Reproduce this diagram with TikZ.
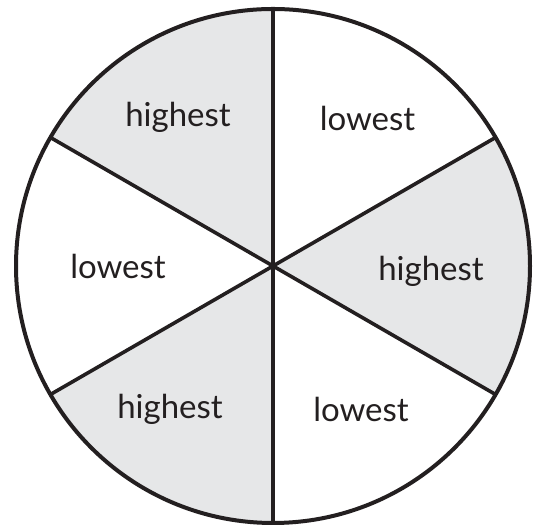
\documentclass[tikz,border=0pt]{standalone}
\usepackage{fontspec}
\setmainfont{Lato}
\usepackage{tikz}
\usetikzlibrary{calc}
\definecolor{ink}{HTML}{231F20}
\definecolor{shade}{HTML}{E6E7E8}

\begin{document}
\begin{tikzpicture}[x=1pt, y=1pt,
    sector/.style={fill=shade},
    lbl/.style={font=\fontsize{33}{36}\selectfont, text=ink, anchor=base, inner sep=0pt},
    edge/.style={ink, line width=3.6pt},
    rim/.style={ink, line width=4pt}
]
    \useasboundingbox (0,0) rectangle (536,526);
    \coordinate (c) at (273,260);
    \foreach \a in {30,90,...,330}
        \coordinate (p\a) at ($(c)+(\a:257)$);

    % grey sectors
    \foreach \a in {90,210,330}
        \fill[sector] (c) -- (p\a) arc[start angle=\a, delta angle=60, radius=257] -- cycle;

    \draw[edge] (p90) -- (p270);
    \draw[edge] (p30) -- (p210);
    \draw[edge] (p150) -- (p330);
    \draw[rim] (c) circle[radius=257];

    \node[lbl] (hi1) at (178,399)   {highest};
    \node[lbl] (lo1) at (367.5,395) {lowest};
    \node[lbl] (lo2) at (118,247)   {lowest};
    \node[lbl] (hi2) at (431,245.5) {highest};
    \node[lbl] (hi3) at (170,107)   {highest};
    \node[lbl] (lo3) at (361,104.5) {lowest};
\end{tikzpicture}
\end{document}
